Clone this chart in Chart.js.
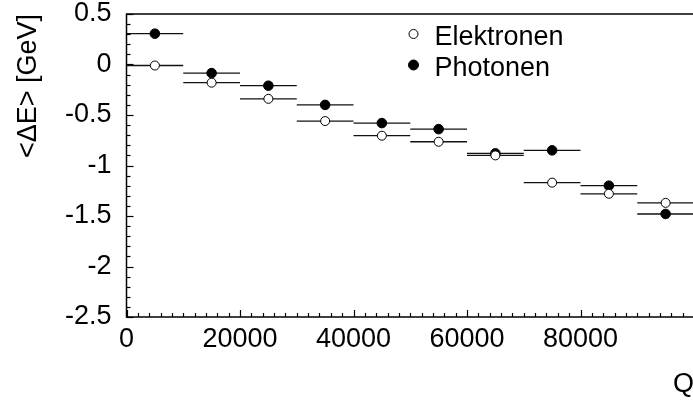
<!DOCTYPE html>
<html>
<head>
<meta charset="utf-8">
<script src="https://cdn.jsdelivr.net/npm/chart.js@4"></script>
<style>
html, body { margin: 0; padding: 0; background: #fff; overflow: hidden; }
#wrap { width: 720px; height: 401px; }
</style>
</head>
<body>
<div id="wrap"><canvas id="chart" width="720" height="401"></canvas></div>
<script>
// bins in Q (width 10000)
var binCenters = [5000, 15000, 25000, 35000, 45000, 55000, 65000, 75000, 85000, 95000];
var binWidth = 10000;

// <dE> in GeV
var elektronen = [-0.01, -0.18, -0.34, -0.56, -0.705, -0.765, -0.90, -1.17, -1.28, -1.37];
var photonen   = [0.305, -0.085, -0.21, -0.40, -0.58, -0.64, -0.88, -0.85, -1.20, -1.48];

var seriesNames = ['Elektronen', 'Photonen'];
var xTicks = [0, 20000, 40000, 60000, 80000];
var yTicks = [0.5, 0, -0.5, -1, -1.5, -2, -2.5];

var FONT = '"Liberation Sans", Arial, Helvetica, sans-serif';
var FSIZE = 27;

function toPoints( ys ) {
	return binCenters.map( function( x, i ) {
		return { x: x, y: ys[ i ] };
	} );
}

// horizontal bin bars, frame with inward ticks, legend
var histPlugin = {
	id: 'histPlugin',
	beforeDatasetsDraw: function( chart ) {
		var ctx = chart.ctx;
		var xs = chart.scales.x;
		var ys = chart.scales.y;
		ctx.save();
		ctx.strokeStyle = '#111';
		ctx.lineWidth = 1.3;
		chart.data.datasets.forEach( function( ds ) {
			ds.data.forEach( function( p ) {
				var y = ys.getPixelForValue( p.y );
				ctx.beginPath();
				ctx.moveTo( xs.getPixelForValue( p.x - binWidth / 2 ), y );
				ctx.lineTo( xs.getPixelForValue( p.x + binWidth / 2 ), y );
				ctx.stroke();
			} );
		} );
		ctx.restore();
	},
	afterDraw: function( chart ) {
		var ctx = chart.ctx;
		var a = chart.chartArea;
		var xs = chart.scales.x;
		var ys = chart.scales.y;
		var v, p, major;
		ctx.save();
		ctx.strokeStyle = '#000';
		ctx.lineWidth = 1.5;
		ctx.strokeRect( a.left, a.top, a.right - a.left, a.bottom - a.top );

		// y ticks every 0.1, major every 0.5
		ctx.lineWidth = 1.2;
		for ( var i = 0; i <= 30; i++ ) {
			v = ys.max - i * 0.1;
			p = Math.round( ys.getPixelForValue( v ) ) + 0.5;
			major = i % 5 === 0;
			ctx.beginPath();
			ctx.moveTo( a.left, p );
			ctx.lineTo( a.left + ( major ? 7 : 4 ), p );
			ctx.stroke();
		}
		// x ticks every 2000, major every 20000
		for ( var j = 0; j <= 50; j++ ) {
			v = j * 2000;
			p = Math.round( xs.getPixelForValue( v ) ) + 0.5;
			major = j % 10 === 0;
			ctx.beginPath();
			ctx.moveTo( p, a.bottom );
			ctx.lineTo( p, a.bottom - ( major ? 7 : 4 ) );
			ctx.stroke();
		}

		// legend
		ctx.font = FSIZE + 'px ' + FONT;
		ctx.textBaseline = 'alphabetic';
		chart.data.datasets.forEach( function( ds, k ) {
			var cx = a.left + 287;
			var cy = a.top + 20 + k * 31;
			ctx.beginPath();
			ctx.arc( cx, cy, k === 0 ? 4.5 : 5, 0, Math.PI * 2 );
			ctx.fillStyle = ds.backgroundColor;
			ctx.fill();
			ctx.lineWidth = 1;
			ctx.strokeStyle = '#000';
			ctx.stroke();
			ctx.fillStyle = '#000';
			ctx.fillText( ds.label, cx + 21, cy + 11 );
		} );
		ctx.restore();
	}
};

new Chart( document.getElementById( 'chart' ), {
	type: 'scatter',
	data: {
		datasets: [
			{
				label: seriesNames[ 0 ],
				data: toPoints( elektronen ),
				backgroundColor: '#fff',
				borderColor: '#000',
				borderWidth: 1,
				pointRadius: 4.5
			},
			{
				label: seriesNames[ 1 ],
				data: toPoints( photonen ),
				backgroundColor: '#000',
				borderColor: '#000',
				borderWidth: 1,
				pointRadius: 4.8
			}
		]
	},
	options: {
		responsive: false,
		animation: false,
		devicePixelRatio: 1,
		layout: { padding: { top: 14, right: 26, left: 0, bottom: 0 } },
		plugins: {
			legend: { display: false },
			tooltip: { enabled: false }
		},
		scales: {
			x: {
				type: 'linear',
				min: 0,
				max: 100000,
				afterFit: function( s ) {
					s.height = 84;
					s.paddingRight = 0;
				},
				afterBuildTicks: function( s ) {
					s.ticks = xTicks.map( function( v ) { return { value: v }; } );
				},
				grid: { display: false, drawTicks: false },
				border: { display: false },
				ticks: {
					autoSkip: false,
					maxRotation: 0,
					padding: 6,
					color: '#000',
					font: { family: FONT, size: FSIZE },
					callback: function( v ) { return String( v ); }
				},
				title: {
					display: true,
					text: 'Q',
					align: 'end',
					color: '#000',
					font: { family: FONT, size: FSIZE },
					padding: { top: 0, bottom: 0 }
				}
			},
			y: {
				type: 'linear',
				min: -2.5,
				max: 0.5,
				afterFit: function( s ) {
					s.width = 126.5;
					s.paddingTop = 0;
					s.paddingBottom = 0;
				},
				afterBuildTicks: function( s ) {
					s.ticks = yTicks.map( function( v ) { return { value: v }; } );
				},
				grid: { display: false, drawTicks: false },
				border: { display: false },
				ticks: {
					autoSkip: false,
					padding: 15,
					color: '#000',
					font: { family: FONT, size: FSIZE },
					callback: function( v ) { return String( v ); }
				},
				title: {
					display: true,
					text: '<ΔE> [GeV]',
					align: 'end',
					color: '#000',
					font: { family: FONT, size: FSIZE },
					padding: { top: 12, bottom: 0 }
				}
			}
		}
	},
	plugins: [ histPlugin ]
} );
</script>
</body>
</html>
